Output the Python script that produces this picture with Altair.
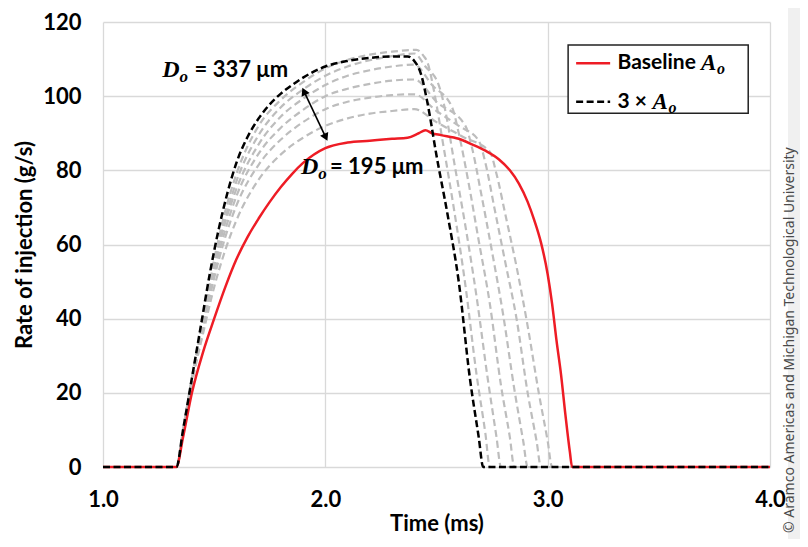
import altair as alt
import pandas as pd

# ---------------- data ----------------
black_t = [1.0, 1.33, 1.36, 1.40, 1.44, 1.48, 1.52, 1.56, 1.60, 1.65, 1.70, 1.75, 1.80, 1.85, 1.90, 2.00,
           2.10, 2.20, 2.30, 2.37, 2.40, 2.43, 2.46, 2.50, 2.55, 2.60, 2.65, 2.69, 2.71, 4.0]
black_v = [0, 0, 10, 24, 38, 52, 64, 74, 82, 89, 94, 97.8, 100.7, 103, 105, 108,
           109.5, 110.3, 110.7, 110.7, 109.5, 106, 98, 84, 68, 50, 24, 8, 0, 0]

red_t = [1.0, 1.33, 1.36, 1.40, 1.45, 1.50, 1.55, 1.60, 1.65, 1.70, 1.75, 1.80, 1.85, 1.90, 2.00,
         2.10, 2.20, 2.30, 2.37, 2.42, 2.45, 2.48, 2.52, 2.60, 2.66, 2.72, 2.78, 2.83, 2.87, 2.91,
         2.94, 2.97, 3.00, 3.02, 3.04, 3.06, 3.08, 3.10, 3.11, 4.0]
red_v = [0, 0, 8, 20, 31, 40, 48.5, 56, 62, 67, 71.5, 75.5, 79, 82, 86,
         87.5, 88, 88.5, 88.8, 90, 90.8, 90, 89.5, 88.5, 87, 85.3, 83, 80, 76.5, 71.5,
         66.5, 60.5, 52, 44, 34, 25, 14, 4, 0, 0]

g1_t = [1.0, 1.33, 1.36, 1.40, 1.45, 1.50, 1.55, 1.60, 1.70, 1.80, 1.90, 2.00, 2.10, 2.20, 2.30,
        2.41, 2.44, 2.46, 2.49, 2.53, 2.58, 2.63, 2.68, 2.72, 2.74, 4.0]
g1_v = [0, 0, 10, 24, 40, 56, 69, 79, 92, 99, 103.8, 107.5, 109.8, 111.2, 112,
        112.5, 111, 109, 101, 87, 69, 49, 25, 9, 0, 0]

g2_t = [1.0, 1.33, 1.36, 1.40, 1.45, 1.50, 1.55, 1.60, 1.70, 1.80, 1.90, 2.00, 2.10, 2.20, 2.30,
        2.40, 2.45, 2.51, 2.54, 2.58, 2.63, 2.68, 2.73, 2.77, 2.79, 4.0]
g2_v = [0, 0, 10, 24, 40, 55, 67, 77, 89.5, 97, 101.8, 105.5, 108, 109.7, 110.8,
        111.5, 108, 103, 96, 82, 65, 46, 24, 8, 0, 0]

g3_t = [1.0, 1.33, 1.36, 1.40, 1.45, 1.50, 1.55, 1.60, 1.70, 1.80, 1.90, 2.00, 2.10, 2.20, 2.30,
        2.40, 2.48, 2.57, 2.60, 2.64, 2.69, 2.74, 2.79, 2.83, 2.85, 4.0]
g3_v = [0, 0, 9, 23.5, 39, 54, 66, 75, 87, 94.5, 99.3, 103, 105.5, 107, 108,
        108.5, 103, 97, 90, 78, 61, 44, 22, 8, 0, 0]

g4_t = [1.0, 1.33, 1.36, 1.40, 1.45, 1.50, 1.55, 1.60, 1.70, 1.80, 1.90, 2.00, 2.10, 2.20, 2.30,
        2.40, 2.50, 2.63, 2.66, 2.70, 2.75, 2.80, 2.85, 2.89, 2.91, 4.0]
g4_v = [0, 0, 9, 23, 38, 52.5, 64, 73, 84.5, 91.5, 96.3, 100, 102, 103.3, 104.2,
        104.5, 98.5, 92, 86, 74, 58, 41, 21, 7, 0, 0]

g5_t = [1.0, 1.33, 1.36, 1.40, 1.45, 1.50, 1.55, 1.60, 1.70, 1.80, 1.90, 2.00, 2.10, 2.20, 2.30,
        2.40, 2.50, 2.60, 2.69, 2.72, 2.76, 2.81, 2.86, 2.91, 2.95, 2.97, 4.0]
g5_v = [0, 0, 9, 23, 37.5, 51, 62, 70.5, 81.5, 88.3, 93, 96.5, 98.5, 99.6, 100.3,
        100.5, 96, 92, 88, 82, 70, 55, 40, 20, 7, 0, 0]

g6_t = [1.0, 1.33, 1.36, 1.40, 1.45, 1.50, 1.55, 1.60, 1.70, 1.80, 1.90, 2.00, 2.10, 2.20, 2.30,
        2.40, 2.50, 2.62, 2.74, 2.77, 2.81, 2.86, 2.91, 2.96, 3.00, 3.02, 4.0]
g6_v = [0, 0, 9, 22.5, 36, 48.5, 58.5, 66.5, 77.5, 84.3, 88.8, 92, 94, 95.3, 96,
        96.5, 93, 89, 85, 79, 68, 54, 38, 20, 7, 0, 0]

x_ticks = [1, 2, 3, 4]
y_ticks = [0, 20, 40, 60, 80, 100, 120]

legend_labels = ["Baseline", "3 ×"]
label_337 = "= 337 μm"
label_195 = "= 195 μm"
copyright_text = "© Aramco Americas and Michigan Technological University"

# ---------------- build tables ----------------
def series_df(name, ts, vs):
    return pd.DataFrame({"t": ts, "v": vs, "series": name, "idx": list(range(len(ts)))})

gray_df = pd.concat([series_df(f"g{i+1}", t, v) for i, (t, v) in enumerate(
    [(g1_t, g1_v), (g2_t, g2_v), (g3_t, g3_v), (g4_t, g4_v), (g5_t, g5_v), (g6_t, g6_v)])])
red_df = series_df("Baseline", red_t, red_v)
black_df = series_df("3x", black_t, black_v)

LABEL_FONT = "Lato"
MATH_FONT = "Liberation Serif"

x_scale = alt.Scale(domain=[1, 4], nice=False, zero=False)
y_scale = alt.Scale(domain=[0, 120], nice=False)

X = alt.X("t:Q", scale=x_scale,
          axis=alt.Axis(values=x_ticks, format=".1f", title="Time (ms)"))
Y = alt.Y("v:Q", scale=y_scale,
          axis=alt.Axis(values=y_ticks, format="d", title="Rate of injection (g/s)"))

gray = alt.Chart(gray_df).mark_line(
    color="#bdbdbd", strokeDash=[7, 4], strokeWidth=2.2, interpolate="monotone"
).encode(x=X, y=Y, detail="series:N", order="idx:Q")

red = alt.Chart(red_df).mark_line(
    color="#ee1c25", strokeWidth=2.5, interpolate="monotone"
).encode(x=X, y=Y, order="idx:Q")

black = alt.Chart(black_df).mark_line(
    color="#000000", strokeDash=[7, 3.5], strokeWidth=2.5, interpolate="monotone"
).encode(x=X, y=Y, order="idx:Q")


def text_layer(t, v, txt, font, size, italic=False, bold=True, align="left", baseline="middle"):
    d = pd.DataFrame({"t": [t], "v": [v], "txt": [txt]})
    return alt.Chart(d).mark_text(
        font=font, fontSize=size, fontWeight="bold" if bold else "normal",
        fontStyle="italic" if italic else "normal", align=align, baseline=baseline,
        color="#000000"
    ).encode(x=X, y=Y, text="txt:N")


# annotations D_o
ann = [
    text_layer(1.266, 107.1, "D", MATH_FONT, 24, italic=True),
    text_layer(1.344, 105.2, "o", MATH_FONT, 17, italic=True),
    text_layer(1.412, 107.1, label_337, LABEL_FONT, 22),
    text_layer(1.891, 80.9, "D", MATH_FONT, 24, italic=True),
    text_layer(1.968, 79.0, "o", MATH_FONT, 17, italic=True),
    text_layer(2.021, 80.9, label_195, LABEL_FONT, 22),
]

# arrow
arrow_df = pd.DataFrame({"t": [1.904, 2.002], "v": [101.3, 88.9]})
arrow_line = alt.Chart(arrow_df).mark_line(color="black", strokeWidth=1.6).encode(x=X, y=Y)
head_up = alt.Chart(pd.DataFrame({"t": [1.904], "v": [101.3]})).mark_point(
    shape="triangle-up", size=80, filled=True, color="black", angle=335, opacity=1
).encode(x=X, y=Y)
head_down = alt.Chart(pd.DataFrame({"t": [2.002], "v": [88.9]})).mark_point(
    shape="triangle-down", size=80, filled=True, color="black", angle=335, opacity=1
).encode(x=X, y=Y)

# legend
box_df = pd.DataFrame({"t": [3.092], "t2": [3.902], "v": [95.4], "v2": [113.8]})
box = alt.Chart(box_df).mark_rect(fill="white", stroke="#222222", strokeWidth=1.5).encode(
    x=X, x2="t2:Q", y=Y, y2="v2:Q")
leg_red = alt.Chart(pd.DataFrame({"t": [3.128, 3.281], "v": [108.9, 108.9]})).mark_line(
    color="#ee1c25", strokeWidth=2.5).encode(x=X, y=Y)
leg_black = alt.Chart(pd.DataFrame({"t": [3.128, 3.281], "v": [98.5, 98.5]})).mark_line(
    color="black", strokeWidth=2.5, strokeDash=[7, 3.5]).encode(x=X, y=Y)
leg_txt = [
    text_layer(3.314, 108.9, legend_labels[0], LABEL_FONT, 21),
    text_layer(3.690, 108.9, "A", MATH_FONT, 23, italic=True),
    text_layer(3.762, 107.2, "o", MATH_FONT, 16, italic=True),
    text_layer(3.314, 98.5, legend_labels[1], LABEL_FONT, 21),
    text_layer(3.472, 98.5, "A", MATH_FONT, 23, italic=True),
    text_layer(3.544, 96.8, "o", MATH_FONT, 16, italic=True),
]

# right-hand credit strip
strip = alt.Chart(pd.DataFrame({"a": [0]})).mark_rect(color="#f0f0f0").encode(
    x=alt.value(685), x2=alt.value(720), y=alt.value(-30), y2=alt.value(540))
credit = alt.Chart(pd.DataFrame({"txt": [copyright_text]})).mark_text(
    font="Noto Sans", fontSize=14, color="#4a4a4a", angle=270, align="left", baseline="middle"
).encode(x=alt.value(687), y=alt.value(511), text="txt:N")

chart = alt.layer(
    gray, red, black, arrow_line, head_up, head_down, *ann, box, leg_red, leg_black, *leg_txt,
    strip, credit
).properties(
    width=667, height=445,
    autosize=alt.AutoSizeParams(type="none"),
    padding={"left": 95, "top": 14, "right": 30, "bottom": 72},
).configure_view(stroke=None).configure_axis(
    labelFont=LABEL_FONT, labelFontSize=22, labelFontWeight="bold", labelColor="#000000",
    titleFont=LABEL_FONT, titleFontSize=22, titleFontWeight="bold", titleColor="#000000",
    ticks=False, domain=False, grid=True, gridColor="#d9d9d9", gridWidth=1.3,
    labelPadding=22,
).configure_axisY(titlePadding=6).configure_axisX(titlePadding=3, labelFlush=False)

chart.save("out.html", embed_options={"renderer": "svg", "actions": False})
